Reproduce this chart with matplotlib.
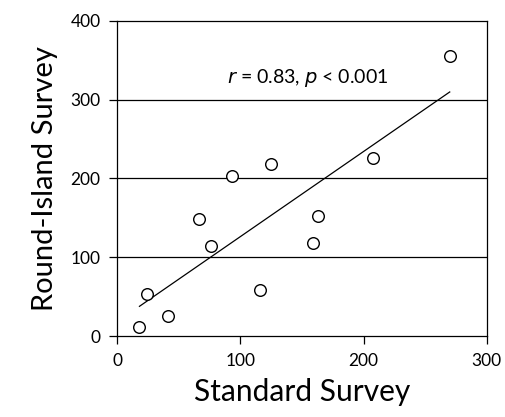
import numpy as np
import matplotlib
matplotlib.use('Agg')
import matplotlib.pyplot as plt

plt.rcParams['font.family'] = ['Lato', 'DejaVu Sans']

# standard survey vs round-island survey counts
standard = [18, 24, 41, 66, 76, 93, 116, 125, 159, 163, 208, 270]
round_island = [12, 54, 26, 149, 114, 203, 58, 219, 118, 152, 226, 356]
x_ticks = [0, 100, 200, 300]
y_ticks = [0, 100, 200, 300, 400]

fig = plt.figure(figsize=(5.06, 4.17), dpi=100)
ax = fig.add_axes([0.2318, 0.194, 0.73, 0.756])

# fitted line over the data range
slope, intercept = np.polyfit(standard, round_island, 1)
fit_x = np.array([min(standard), max(standard)])
ax.plot(fit_x, slope * fit_x + intercept, color='black', lw=0.9, zorder=2)

ax.scatter(standard, round_island, s=70, facecolors='white', edgecolors='black',
           linewidths=1.0, zorder=3)

for y in y_ticks[1:-1]:
    ax.axhline(y, color='black', lw=0.9, zorder=1)

ax.text(155, 328, r'$\it{r}$ = 0.83, $\it{p}$ < 0.001', ha='center', va='center', fontsize=14)

ax.set_xlim(0, 300)
ax.set_ylim(0, 400)
ax.set_xticks(x_ticks)
ax.set_yticks(y_ticks)
ax.tick_params(direction='out', length=6, width=0.9, labelsize=12.5, pad=6)
for s in ax.spines.values():
    s.set_linewidth(0.9)

ax.set_xlabel('Standard Survey', fontsize=21.5, labelpad=7)
ax.set_ylabel('Round-Island Survey', fontsize=21, labelpad=9)

fig.savefig('out.png', dpi=100)
